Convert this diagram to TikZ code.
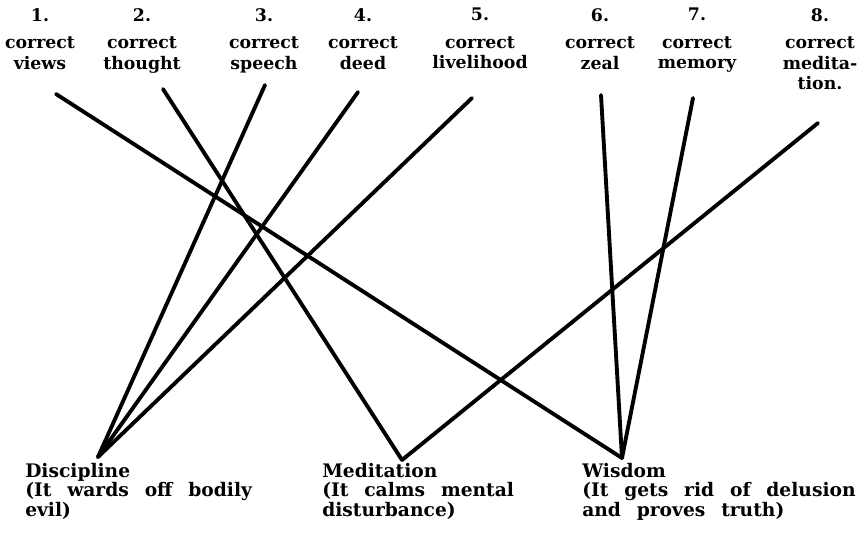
\documentclass[tikz,border=0pt]{standalone}
\usepackage{fontspec}
\setmainfont{DejaVu Serif}
\newcommand\mywidesp{\spaceskip=0.85em plus 0.1em minus 0.1em\relax}
\begin{document}
\begin{tikzpicture}[x=0.75pt,y=-0.75pt,
  toplabel/.style={anchor=north, align=center, font=\bfseries\fontsize{13}{15.5}\selectfont, inner sep=0pt},
  botlabel/.style={anchor=north west, align=left, font=\bfseries\fontsize{14}{14.5}\selectfont\mywidesp, inner sep=0pt},
  path8/.style={line width=2.9pt, line cap=round, line join=miter}]
\useasboundingbox (0,0) rectangle (858,544);
% top labels
\node[toplabel] (l1) at (40,8) {1.\\[5pt]correct\\views};
\node[toplabel] (l2) at (142,8) {2.\\[5pt]correct\\thought};
\node[toplabel] (l3) at (264,8) {3.\\[5pt]correct\\speech};
\node[toplabel] (l4) at (363,8) {4.\\[5pt]correct\\deed};
\node[toplabel] (l5) at (480,8) {5.\\[5pt]correct\\livelihood};
\node[toplabel] (l6) at (600,8) {6.\\[5pt]correct\\zeal};
\node[toplabel] (l7) at (697,8) {7.\\[5pt]correct\\memory};
\node[toplabel] (l8) at (820,8) {8.\\[5pt]correct\\medita-\\tion.};
% bottom labels
\node[botlabel] (disc) at (25,463) {Discipline\\(It wards off bodily\\evil)};
\node[botlabel] (medi) at (322,463) {Meditation\\(It calms mental\\disturbance)};
\node[botlabel] (wisd) at (582,463) {Wisdom\\(It gets rid of delusion\\and proves truth)};
% line ends
\coordinate (t1) at (56,94);
\coordinate (t2) at (163,89);
\coordinate (t3) at (265,85);
\coordinate (t4) at (358,92);
\coordinate (t5) at (472,98);
\coordinate (t6) at (601,95);
\coordinate (t7) at (693,98);
\coordinate (t8) at (818,123);
\coordinate (d) at (98,457);
\coordinate (m) at (402,460);
\coordinate (w) at (622,458);
% connectors
\draw[path8] (t1) -- (w);
\draw[path8] (t2) -- (m);
\draw[path8] (t3) -- (d);
\draw[path8] (t4) -- (d);
\draw[path8] (t5) -- (d);
\draw[path8] (t6) -- (w);
\draw[path8] (t7) -- (w);
\draw[path8] (t8) -- (m);
\end{tikzpicture}
\end{document}
